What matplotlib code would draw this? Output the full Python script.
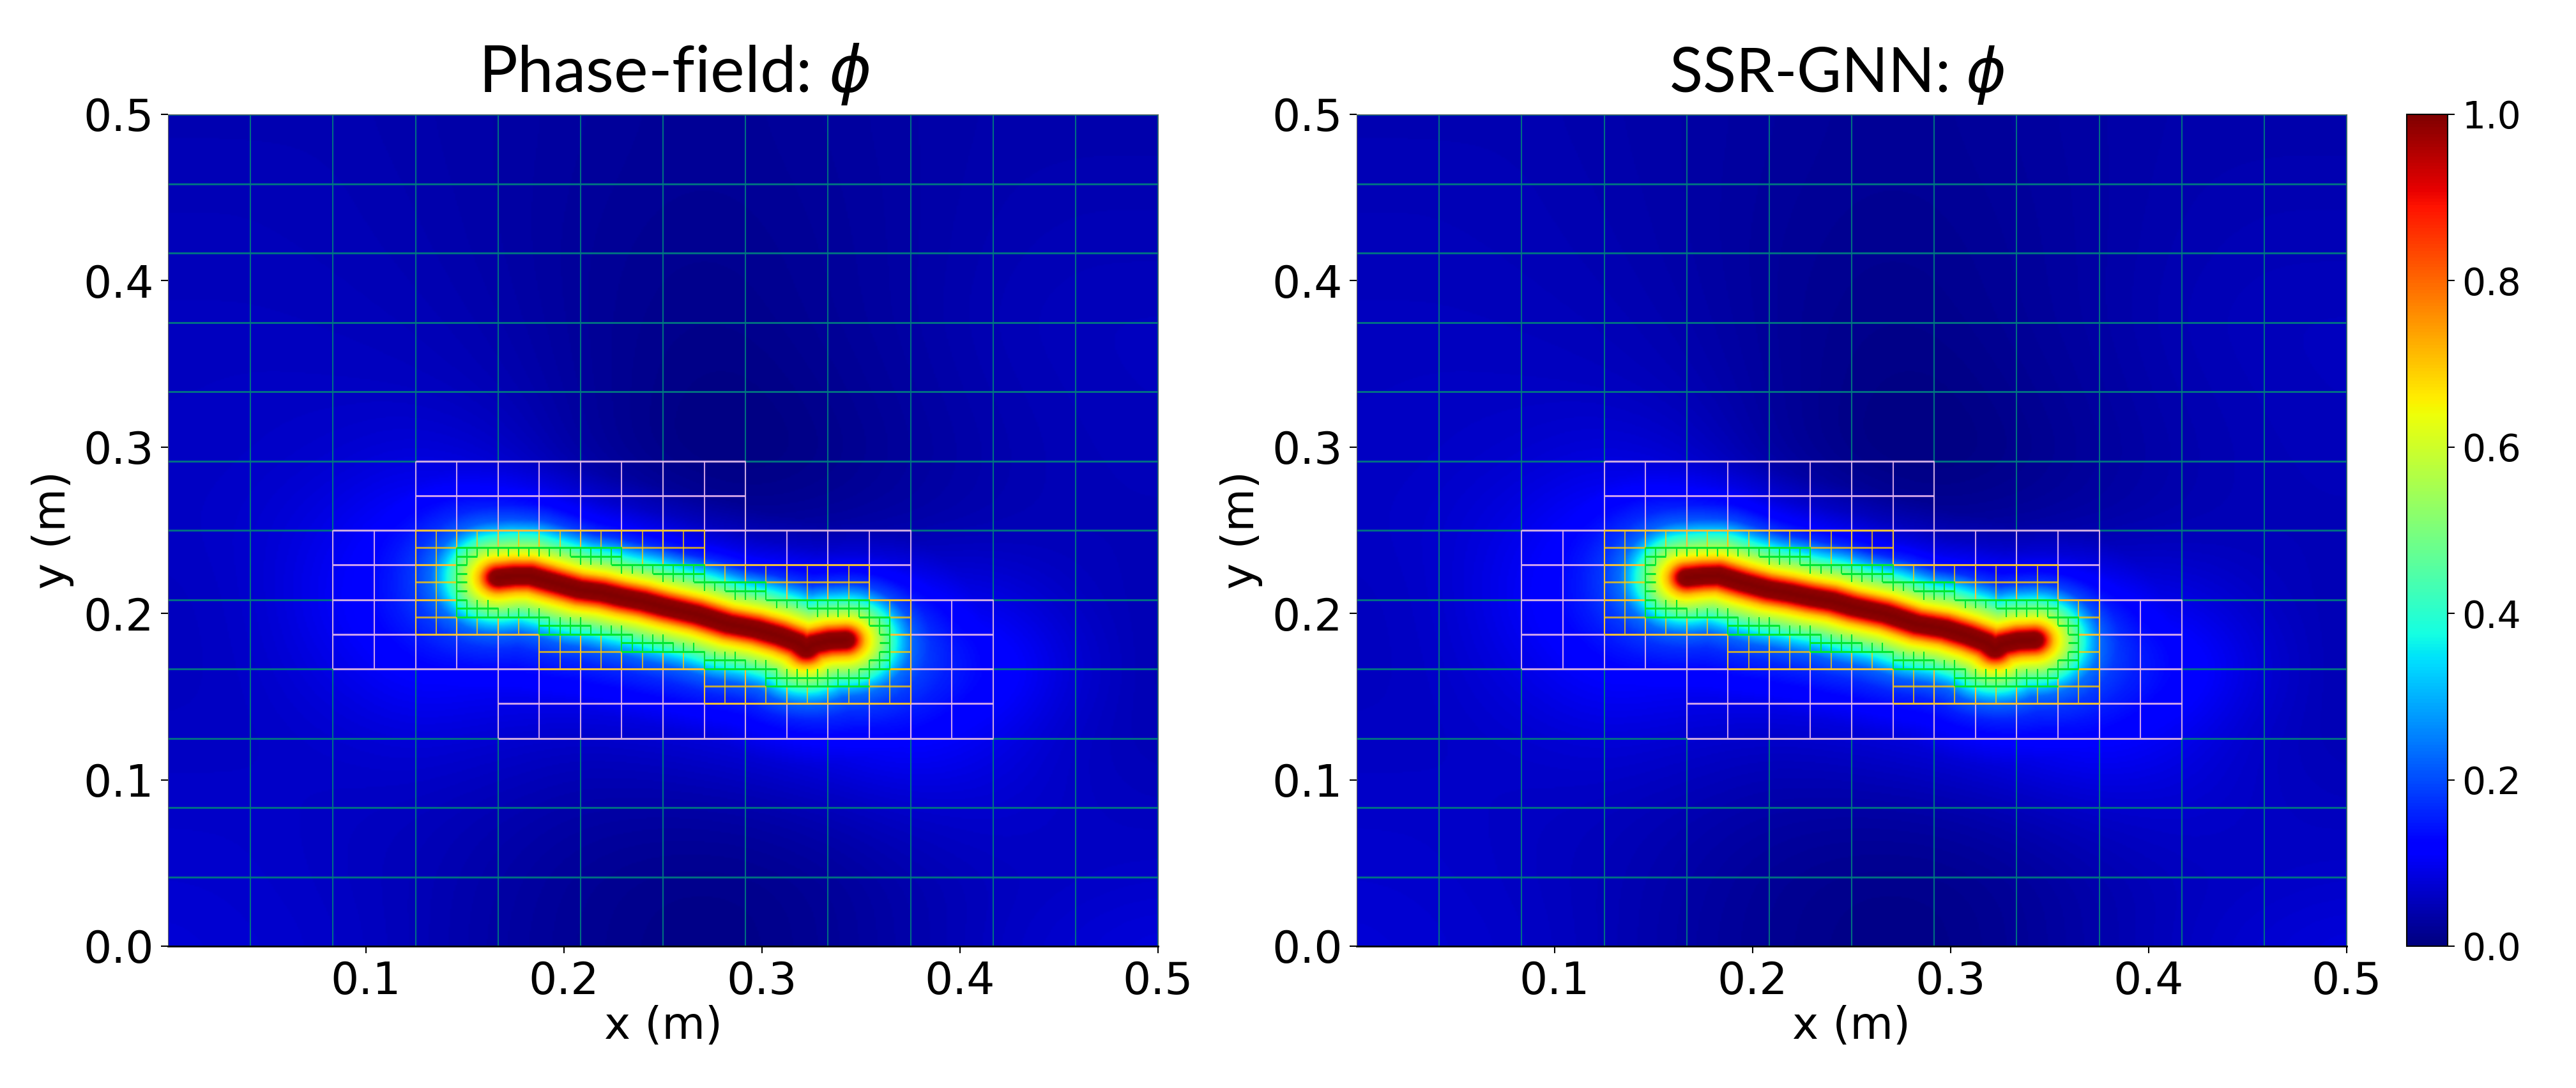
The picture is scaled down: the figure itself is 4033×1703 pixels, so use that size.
import numpy as np
import matplotlib
matplotlib.use("Agg")
import matplotlib.pyplot as plt
from matplotlib.path import Path
from matplotlib.patches import PathPatch

W = 4033
H = 1703

titles = ["Phase-field: $\\phi$", "SSR-GNN: $\\phi$"]
title_x = [1056, 2876]
title_size = [73, 69]
axes_left = [263, 2124]
ticks_y = [0.0, 0.1, 0.2, 0.3, 0.4, 0.5]
ticks_x = [0.1, 0.2, 0.3, 0.4, 0.5]
cbar_ticks = [0.0, 0.2, 0.4, 0.6, 0.8, 1.0]

# phi at the coarse mesh nodes, top row is y=0.5
background = [
    [.045, .045, .045, .040, .035, .028, .022, .022, .028, .035, .040, .040, .040],
    [.050, .050, .048, .042, .035, .026, .020, .020, .026, .034, .042, .045, .045],
    [.052, .052, .050, .045, .036, .024, .016, .016, .024, .034, .045, .050, .050],
    [.056, .056, .054, .050, .040, .024, .012, .012, .022, .034, .048, .055, .056],
    [.058, .060, .060, .058, .048, .026, .008, .004, .016, .030, .044, .052, .056],
    [.060, .062, .070, .085, .070, .030, .006, .000, .010, .026, .040, .050, .052],
    [.060, .068, .095, .135, .135, .085, .045, .025, .028, .035, .045, .050, .050],
    [.055, .065, .110, .150, .150, .125, .105, .090, .100, .105, .090, .058, .045],
    [.055, .062, .090, .125, .115, .125, .140, .140, .150, .155, .145, .075, .040],
    [.060, .060, .068, .078, .070, .060, .068, .085, .105, .125, .095, .058, .045],
    [.065, .065, .060, .055, .045, .035, .032, .035, .048, .065, .070, .060, .055],
    [.070, .068, .060, .050, .035, .020, .012, .012, .022, .040, .055, .060, .065],
    [.078, .072, .065, .050, .032, .018, .008, .008, .020, .038, .058, .075, .085],
]

# crack centre lines (x, y) in metres
crack_pf = [(0.167, 0.2215), (0.175, 0.2225), (0.183, 0.2225), (0.195, 0.2185), (0.2077, 0.2143),
            (0.219, 0.2125), (0.229, 0.2097), (0.240, 0.2072), (0.2506, 0.2039), (0.267, 0.1995),
            (0.283, 0.1936), (0.297, 0.1905), (0.3087, 0.1866), (0.318, 0.1825), (0.3225, 0.1785),
            (0.326, 0.1815), (0.334, 0.1835), (0.342, 0.184)]
crack_gnn = [(0.167, 0.2215), (0.175, 0.2225), (0.183, 0.2228), (0.195, 0.2185), (0.2077, 0.2145),
             (0.219, 0.2122), (0.229, 0.2097), (0.240, 0.2075), (0.2506, 0.2039), (0.267, 0.1998),
             (0.283, 0.1936), (0.297, 0.1908), (0.3087, 0.1866), (0.318, 0.1825), (0.3225, 0.1785),
             (0.326, 0.1815), (0.334, 0.1835), (0.342, 0.184)]

# phi against distance from the crack
profile_d = [0, .0045, .0058, .0078, .0102, .0168, .0228, .0292, .0340, .043, .054, .07]
profile_phi = [1.0, .98, .90, .78, .66, .50, .35, .20, .11, .05, .02, 0]

# mesh blocks, in cells of 1/96 of the 0.5 m domain: x0, x1, y0, y1
level1_blocks = [(16, 32, 32, 48), (24, 56, 48, 56), (32, 72, 24, 48), (72, 80, 24, 40)]
level2_blocks = [(24, 36, 36, 48), (36, 52, 44, 48), (44, 68, 40, 44), (36, 52, 32, 36),
                 (52, 72, 28, 32), (68, 72, 32, 40)]
# finest level only shows as stubs: y, x0, x1
green_h = [(46, 28, 44), (45, 28, 30), (45, 39, 44), (44, 28, 29), (44, 43, 52), (43, 28, 29), (43, 47, 52),
           (42, 28, 29), (42, 51, 58), (41, 28, 29), (41, 54, 58), (40, 28, 29), (40, 58, 68), (39, 28, 32),
           (39, 62, 68), (38, 28, 37), (38, 67, 70), (37, 36, 41), (37, 68, 70), (36, 36, 45), (36, 69, 70),
           (35, 44, 49), (35, 69, 70), (34, 44, 52), (34, 69, 70), (33, 52, 56), (33, 68, 70), (32, 52, 59),
           (32, 67, 70), (31, 58, 68), (30, 58, 68)]
# first x, last x, y0, y1
green_v = [(28, 28, 38, 46), (29, 29, 44, 46), (30, 39, 45, 46), (40, 43, 44, 46), (44, 44, 43, 46), (45, 47, 43, 44),
           (48, 51, 42, 44), (52, 52, 41, 44), (53, 54, 41, 42), (55, 58, 40, 42), (59, 62, 39, 40), (63, 67, 38, 40),
           (68, 68, 37, 40), (69, 69, 36, 38), (70, 70, 32, 38), (69, 69, 32, 34), (68, 68, 31, 33), (67, 67, 30, 32),
           (59, 66, 30, 32), (58, 58, 30, 33), (56, 57, 32, 33), (52, 55, 32, 34), (49, 51, 34, 35), (45, 48, 34, 36),
           (44, 44, 34, 37), (41, 43, 36, 37), (37, 40, 36, 38), (36, 36, 36, 39), (32, 35, 38, 39), (29, 31, 38, 40)]
# no mesh lines are drawn inside this outline
core_outline = [(29, 40), (29, 45), (40, 45), (40, 44), (44, 44), (44, 43), (48, 43), (48, 42), (52, 42), (52, 41),
                (55, 41), (55, 40), (59, 40), (59, 39), (63, 39), (63, 38), (68, 38), (68, 37), (69, 37), (69, 33),
                (68, 33), (68, 32), (58, 32), (58, 33), (55, 33), (55, 34), (52, 34), (52, 35), (49, 35), (49, 36),
                (45, 36), (45, 37), (41, 37), (41, 38), (37, 38), (37, 39), (32, 39), (32, 40)]

CELL = 0.5 / 96
C_L0 = "#007a80"
C_L1 = "#e0b0ec"
C_L2 = "#ffc800"
C_L3 = "#00e830"
LW_V = 1.5
LW_H = 2.2


def smooth(a, n):
    kernel = np.ones(n) / n
    pad = n // 2
    a = np.pad(a, pad, mode="edge")
    a = np.apply_along_axis(lambda r: np.convolve(r, kernel, mode="same"), 0, a)
    a = np.apply_along_axis(lambda r: np.convolve(r, kernel, mode="same"), 1, a)
    return a[pad:-pad, pad:-pad]


def make_field(crack, n=600):
    xs = (np.arange(n) + 0.5) / n * 0.5
    ys = (np.arange(n) + 0.5) / n * 0.5
    X, Y = np.meshgrid(xs, ys)
    nodes = np.linspace(0, 0.5, 13)
    bg = np.array(background)[::-1]
    rows = np.array([np.interp(xs, nodes, r) for r in bg])
    bgf = np.array([np.interp(ys, nodes, rows[:, i]) for i in range(n)]).T
    bgf = smooth(smooth(bgf, 41), 41)
    pts = np.array(crack)
    d = np.full(X.shape, 1.0)
    for a, b in zip(pts[:-1], pts[1:]):
        ab = b - a
        t = np.clip(((X - a[0]) * ab[0] + (Y - a[1]) * ab[1]) / (ab @ ab), 0, 1)
        d = np.minimum(d, np.hypot(X - a[0] - t * ab[0], Y - a[1] - t * ab[1]))
    p = np.interp(d, profile_d, profile_phi)
    return bgf + (1 - bgf) * p


def draw_block(ax, b, step, color, z, alpha):
    x0, x1, y0, y1 = b
    ax.vlines(np.arange(x0, x1 + 1, step) * CELL, y0 * CELL, y1 * CELL, color=color, lw=LW_V, alpha=alpha, zorder=z)
    ax.hlines(np.arange(y0, y1 + 1, step) * CELL, x0 * CELL, x1 * CELL, color=color, lw=LW_H, alpha=alpha, zorder=z)


def core_patch(ax):
    verts = []
    codes = []
    base = np.array(core_outline, dtype=float)
    for dx, dy in [(-.2, -.2), (.2, -.2), (.2, .2), (-.2, .2)]:
        v = (base + [dx, dy]) * CELL
        verts += list(v) + [v[0]]
        codes += [Path.MOVETO] + [Path.LINETO] * (len(v) - 1) + [Path.CLOSEPOLY]
    return PathPatch(Path(verts, codes), transform=ax.transData, fc="none", ec="none")


fig = plt.figure(figsize=(W / 100, H / 100), dpi=100)
im = None
for i, crack in enumerate([crack_pf, crack_gnn]):
    ax = fig.add_axes([axes_left[i] / W, (H - 1481) / H, 1550 / W, 1302 / H])
    phi = make_field(crack)
    im = ax.imshow(phi, origin="lower", extent=[0, .5, 0, .5], cmap="jet", vmin=0, vmax=1,
                   aspect="auto", interpolation="bilinear", zorder=1)
    draw_block(ax, (0, 96, 0, 96), 8, C_L0, 2, 0.9)
    for b in level1_blocks:
        draw_block(ax, b, 4, C_L1, 3, 0.9)
    for b in level2_blocks:
        draw_block(ax, b, 2, C_L2, 4, 0.75)
    top = ax.imshow(phi, origin="lower", extent=[0, .5, 0, .5], cmap="jet", vmin=0, vmax=1,
                    aspect="auto", interpolation="bilinear", zorder=5)
    patch = core_patch(ax)
    ax.add_patch(patch)
    top.set_clip_path(patch)
    for y, x0, x1 in green_h:
        ax.hlines(y * CELL, x0 * CELL, x1 * CELL, color=C_L3, lw=LW_H, zorder=6)
    for xa, xb, y0, y1 in green_v:
        ax.vlines(np.arange(xa, xb + 1) * CELL, y0 * CELL, y1 * CELL, color=C_L3, lw=LW_V, zorder=6)
    ax.set_xlim(0, .5)
    ax.set_ylim(0, .5)
    ax.set_xticks(ticks_x)
    ax.set_yticks(ticks_y)
    ax.tick_params(labelsize=50, length=8, width=1.5, pad=8)
    ax.set_xlabel("x (m)", fontsize=50, labelpad=2)
    ax.set_ylabel("y (m)", fontsize=50, labelpad=10)
    for s in ["top", "left", "right"]:
        ax.spines[s].set_linewidth(0.8)
        ax.spines[s].set_color("#606060")
    ax.spines["bottom"].set_linewidth(2)
    ax.spines["bottom"].set_zorder(7)
    fig.text(title_x[i] / W, (H - 144) / H, titles[i], fontsize=title_size[i], family="Lato", ha="center", va="baseline")

cax = fig.add_axes([3768 / W, (H - 1481) / H, 64 / W, 1302 / H])
cb = fig.colorbar(im, cax=cax, ticks=cbar_ticks)
cb.ax.tick_params(labelsize=42, length=8, width=1.5, pad=8)
cb.outline.set_linewidth(1.5)

fig.savefig("out.png", dpi=100)
